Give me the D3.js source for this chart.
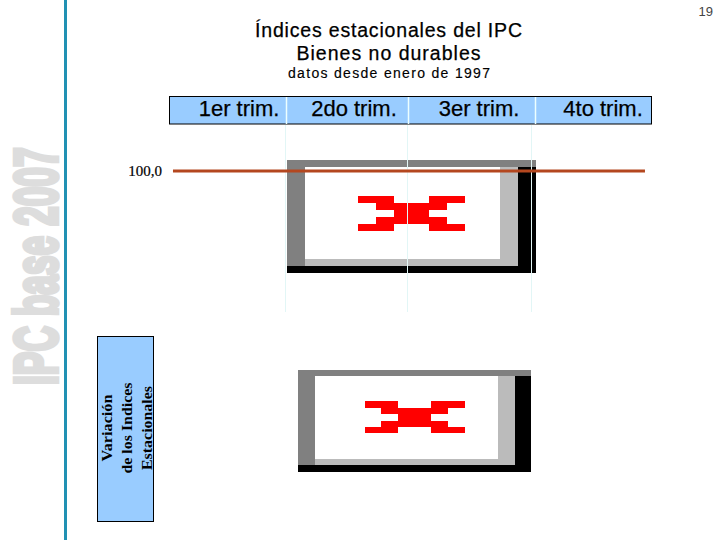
<!DOCTYPE html>
<html>
<head>
<meta charset="utf-8">
<script src="https://cdn.jsdelivr.net/npm/d3@7"></script>
<style>
html,body{margin:0;padding:0;background:#fff}
svg{display:block}
</style>
</head>
<body>
<svg id="c" width="720" height="540"></svg>
<script>
// ---- data (x in quarter position, y in index points) ----
const quarterLabels = ["1er trim.", "2do trim.", "3er trim.", "4to trim."];
const quarterCenters = [0.581, 1.535, 2.573, 3.602];
const headerEdges = [0.971, 1.983, 3.037];
const gridEdges = [0.963, 1.975, 3.008];
const indexTicks = [100];
const baselineX = [0.033, 3.950];
const baselineY = [100, 100];
const frameTopX = [0.979, 1.129, 2.747, 2.896, 3.046];
const frameTopY = [101.1, 100.4, 91.2, 90.5, 89.83];
const frameBottomX = [1.071, 1.212, 2.730, 2.871, 3.004];
const frameBottomY = [80.1, 79.5, 71.2, 70.6, 69.93];
const glyphTopX = [1.568, 1.718, 1.867, 2.158, 2.307, 2.456];
const glyphTopY = [97.5, 96.8, 96.1, 95.4, 94.7, 94.0];
const glyphBottomX = [1.627, 1.759, 1.900, 2.174, 2.315, 2.456];
const glyphBottomY = [77.0, 76.3, 75.7, 75.0, 74.4, 73.8];
const titleLines = ["Índices estacionales del IPC", "Bienes no durables"];
const subtitle = "datos desde enero de 1997";
const sideLabel = ["Variación", "de los Indices", "Estacionales"];

const SANS = "'Liberation Sans', Arial, sans-serif";
const SERIF = "'Liberation Serif', 'Times New Roman', serif";
const BLUE = "#99ccff";

const svg = d3.select("#c");
const x = d3.scaleLinear().domain([0, 4]).range([169, 651]);
const y = d3.scaleLinear().domain([100, 65]).range([171, 521]);

function addRect(g, x0, x1, y0, y1, fill) {
  g.append("rect")
    .attr("x", x(x0)).attr("width", x(x1) - x(x0))
    .attr("y", y(y0)).attr("height", y(y1) - y(y0))
    .attr("fill", fill);
}

// page furniture
svg.append("rect").attr("x", 64).attr("y", 0).attr("width", 3).attr("height", 540).attr("fill", "#2191b3");
svg.append("text")
  .attr("transform", "translate(56.5,385) rotate(-90) scale(0.57,1)")
  .attr("font-family", SANS)
  .attr("font-weight", "bold").attr("font-size", 62)
  .attr("fill", "#dddddd").attr("stroke", "#dddddd").attr("stroke-width", 4.5)
  .attr("stroke-linejoin", "miter").text("IPC base 2007");
svg.append("text").attr("x", 713).attr("y", 16).attr("text-anchor", "end")
  .attr("font-family", SANS).attr("font-size", 13).attr("fill", "#444").text("19");

// titles
const titleWidths = [267, 184];
svg.selectAll("text.title").data(titleLines).join("text").attr("class", "title")
  .attr("x", 388.5).attr("y", (d, i) => 37 + i * 23)
  .attr("text-anchor", "middle").attr("font-family", SANS).attr("font-size", 19.5)
  .attr("textLength", (d, i) => titleWidths[i]).attr("lengthAdjust", "spacing")
  .attr("fill", "#000").attr("stroke", "#000").attr("stroke-width", 0.25).text(d => d);
svg.append("text").attr("x", 389).attr("y", 77.5).attr("text-anchor", "middle")
  .attr("font-family", SANS).attr("font-size", 14)
  .attr("textLength", 202).attr("lengthAdjust", "spacing")
  .attr("fill", "#000").attr("stroke", "#000").attr("stroke-width", 0.15).text(subtitle);

// header band
svg.append("rect").attr("x", 169.5).attr("y", 96.5).attr("width", 482).attr("height", 27.5)
  .attr("fill", BLUE).attr("stroke", "#000").attr("stroke-width", 1);

// framed glyphs
function drawFrame(fx, fy) {
  const g = svg.append("g").attr("shape-rendering", "crispEdges");
  addRect(g, fx[0], fx[4], fy[0], fy[1], "#808080");
  addRect(g, fx[0], fx[1], fy[1], fy[3], "#808080");
  addRect(g, fx[2], fx[3], fy[1], fy[3], "#bbbbbb");
  addRect(g, fx[1], fx[3], fy[2], fy[3], "#bbbbbb");
  addRect(g, fx[3], fx[4], fy[1], fy[4], "#000000");
  addRect(g, fx[0], fx[4], fy[3], fy[4], "#000000");
}
function drawGlyph(gx, gy) {
  const g = svg.append("g").attr("shape-rendering", "crispEdges");
  addRect(g, gx[0], gx[2], gy[0], gy[1], "#ff0000");
  addRect(g, gx[3], gx[5], gy[0], gy[1], "#ff0000");
  addRect(g, gx[1], gx[2], gy[1], gy[2], "#ff0000");
  addRect(g, gx[3], gx[4], gy[1], gy[2], "#ff0000");
  addRect(g, gx[2], gx[3], gy[1], gy[4], "#ff0000");
  addRect(g, gx[1], gx[2], gy[3], gy[4], "#ff0000");
  addRect(g, gx[3], gx[4], gy[3], gy[4], "#ff0000");
  addRect(g, gx[0], gx[2], gy[4], gy[5], "#ff0000");
  addRect(g, gx[3], gx[5], gy[4], gy[5], "#ff0000");
}
drawFrame(frameTopX, frameTopY);
drawGlyph(glyphTopX, glyphTopY);
drawFrame(frameBottomX, frameBottomY);
drawGlyph(glyphBottomX, glyphBottomY);

// quarter dividers
svg.selectAll("line.edge").data(gridEdges).join("line").attr("class", "edge")
  .attr("x1", d => Math.round(x(d)) + 0.5).attr("x2", d => Math.round(x(d)) + 0.5)
  .attr("y1", 125).attr("y2", 312)
  .attr("stroke", "#e2f6f6").attr("stroke-width", 1);
svg.selectAll("line.head").data(headerEdges).join("line").attr("class", "head")
  .attr("x1", d => Math.round(x(d)) + 0.5).attr("x2", d => Math.round(x(d)) + 0.5)
  .attr("y1", 97).attr("y2", 124)
  .attr("stroke", "#ecffff").attr("stroke-width", 1.5);

// baseline at 100
svg.append("path")
  .datum(baselineX.map((d, i) => [d, baselineY[i]]))
  .attr("d", d3.line().x(d => x(d[0])).y(d => y(d[1])))
  .attr("fill", "none").attr("stroke", "#b4471f").attr("stroke-width", 3);

// axes
const quarterAxis = svg.append("g").attr("transform", "translate(0,124)")
  .call(d3.axisTop(x).tickValues(quarterCenters).tickSize(0).tickPadding(8).offset(0)
    .tickFormat((d, i) => quarterLabels[i]));
quarterAxis.select(".domain").remove();
quarterAxis.selectAll("text").attr("font-family", SANS).attr("font-size", 22)
  .attr("fill", "#000").attr("stroke", "#000").attr("stroke-width", 0.25);

const indexAxis = svg.append("g").attr("transform", "translate(173,0)")
  .call(d3.axisLeft(y).tickValues(indexTicks).tickSize(0).tickPadding(11).offset(0)
    .tickFormat(d => d3.format(".1f")(d).replace(".", ",")));
indexAxis.select(".domain").remove();
indexAxis.selectAll("text").attr("font-family", SERIF).attr("font-size", 15)
  .attr("fill", "#000").attr("stroke", "#000").attr("stroke-width", 0.2);

// side label box
const sideWidths = [67, 91, 84];
svg.append("rect").attr("x", 97.5).attr("y", 336.5).attr("width", 56).attr("height", 185)
  .attr("fill", BLUE).attr("stroke", "#000").attr("stroke-width", 1);
svg.selectAll("text.side").data(sideLabel).join("text").attr("class", "side")
  .attr("transform", (d, i) => `translate(${[112, 132, 151.5][i]},428) rotate(-90)`)
  .attr("text-anchor", "middle").attr("font-family", SERIF).attr("font-weight", "bold")
  .attr("font-size", 15).attr("textLength", (d, i) => sideWidths[i]).attr("lengthAdjust", "spacingAndGlyphs")
  .attr("fill", "#000").text(d => d);
</script>
</body>
</html>
